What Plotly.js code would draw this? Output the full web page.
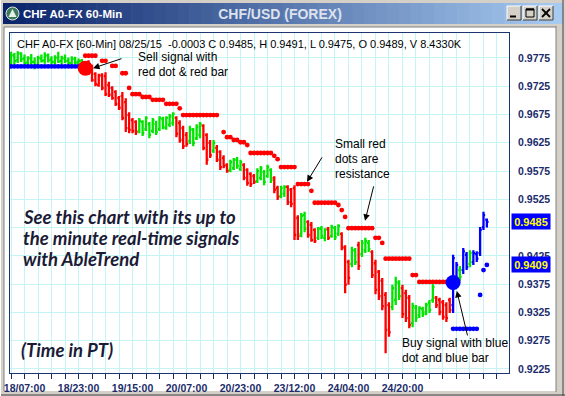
<!DOCTYPE html>
<html><head><meta charset="utf-8">
<script src="https://cdn.plot.ly/plotly-3.0.1.min.js"></script>
<style>html,body{margin:0;padding:0;background:#d4d0c8;overflow:hidden}#chart{width:565px;height:396px}</style>
</head><body><div id="chart"></div>
<script>
// ---------------- DATA ----------------
// bar colour per hourly bar (G = green, R = red, B = blue)
const barColor = "GGGGGGGGGGGGGGGGGGGGGG" + "RRRRRRRRRRRRRRRR" + "GGGGGGGGGGG" +
  "RRRR" + "GGGG" + "RRR" + "G" + "RRRR" + "GGGG" + "RRRR" + "GGGGG" + "RR" + "GG" + "RRRR" + "GG" +
  "RRR" + "GGG" + "R" + "GGG" + "RRR" + "GG" + "R" + "GGG" + "RRRRRR" + "GGG" + "RRR" + "GGGGGGG" +
  "RRRRR" + "BB" + "G" + "BB" + "G" + "BBBBB";

const openP = [
 .9772,.9779,.9771,.9783,.9774,.9767,.9774,.9768,.9763,.9774,.9771,.9779,.9772,.9768,.9775,.9770,.9774,.9770,.9766,.9773,.9767,.9770,
 .9764,.9768,.9759,.9747,.9727,.9745,.9743,.9727,.9722,.9715,.9704,.9708,.9697,.9674,.9665,.9662,.9646,.9662,.9649,.9658,
 .9646,.9658,.9649,.9667,.9651,.9657,.9660,.9669,.9660,.9651,.9639,.9628,.9648,.9633,.9639,.9655,.9639,.9625,.9611,.9616,
 .9609,.9598,.9586,.9577,.9580,.9595,.9579,.9586,.9577,.9570,.9566,.9557,.9563,.9573,.9566,.9577,.9563,.9545,.9531,.9535,
 .9547,.9542,.9545,.9492,.9464,.9497,.9485,.9480,.9471,.9457,.9473,.9457,.9473,.9460,.9474,.9464,.9464,.9439,.9414,.9411,
 .9435,.9444,.9428,.9435,.9448,.9432,.9412,.9397,.9381,.9356,.9338,.9335,.9347,.9377,.9368,.9359,.9351,.9306,.9333,.9320,
 .9331,.9326,.9342,.9347,.9351,.9347,.9343,.9338,.9347,.9338,.9386,.9400,.9400,.9427,.9411,.9414,.9428,.9430,.9476,.9489];
const highP = [
 .9786,.9784,.9787,.9785,.9781,.9778,.9782,.9776,.9779,.9781,.9785,.9783,.9778,.9780,.9786,.9779,.9781,.9776,.9778,.9777,.9774,.9773,
 .9766,.9771,.9763,.9750,.9747,.9748,.9750,.9733,.9725,.9718,.9708,.9715,.9704,.9679,.9669,.9665,.9669,.9665,.9672,.9662,
 .9669,.9664,.9672,.9671,.9672,.9676,.9679,.9672,.9665,.9655,.9644,.9655,.9651,.9658,.9662,.9658,.9642,.9630,.9630,.9621,
 .9612,.9603,.9589,.9595,.9598,.9600,.9595,.9589,.9580,.9573,.9570,.9580,.9584,.9577,.9586,.9580,.9566,.9549,.9549,.9550,
 .9550,.9545,.9550,.9497,.9501,.9503,.9488,.9485,.9474,.9476,.9478,.9474,.9476,.9480,.9478,.9481,.9467,.9444,.9418,.9441,
 .9439,.9450,.9453,.9457,.9453,.9435,.9418,.9400,.9386,.9361,.9343,.9374,.9388,.9382,.9374,.9365,.9356,.9342,.9338,.9336,
 .9335,.9342,.9347,.9375,.9354,.9351,.9347,.9343,.9351,.9427,.9414,.9407,.9439,.9432,.9435,.9435,.9433,.9476,.9503,.9491];
const lowP = [
 .9762,.9764,.9766,.9768,.9762,.9758,.9764,.9755,.9761,.9767,.9765,.9767,.9763,.9764,.9766,.9764,.9766,.9762,.9762,.9764,.9762,.9761,
 .9750,.9745,.9733,.9725,.9724,.9718,.9708,.9706,.9701,.9690,.9683,.9665,.9644,.9642,.9642,.9639,.9642,.9637,.9646,.9633,
 .9642,.9639,.9646,.9649,.9648,.9653,.9655,.9635,.9625,.9614,.9618,.9623,.9619,.9630,.9633,.9612,.9586,.9598,.9607,.9591,
 .9577,.9580,.9572,.9573,.9577,.9579,.9575,.9559,.9549,.9547,.9552,.9554,.9559,.9550,.9563,.9554,.9536,.9524,.9527,.9529,
 .9515,.9511,.9453,.9453,.9458,.9467,.9457,.9450,.9448,.9453,.9455,.9451,.9453,.9457,.9453,.9460,.9435,.9359,.9374,.9405,
 .9409,.9400,.9423,.9430,.9432,.9386,.9357,.9347,.9329,.9253,.9282,.9329,.9338,.9347,.9315,.9308,.9297,.9299,.9308,.9315,
 .9317,.9320,.9324,.9342,.9333,.9320,.9312,.9308,.9324,.9324,.9381,.9381,.9393,.9400,.9405,.9409,.9414,.9425,.9471,.9475];
const closeP = [
 .9780,.9770,.9783,.9773,.9766,.9775,.9768,.9762,.9775,.9770,.9780,.9771,.9768,.9776,.9769,.9775,.9770,.9766,.9774,.9767,.9770,.9764,
 .9754,.9750,.9736,.9729,.9743,.9722,.9711,.9710,.9704,.9694,.9687,.9669,.9651,.9648,.9646,.9644,.9664,.9642,.9669,.9639,
 .9665,.9644,.9669,.9653,.9669,.9672,.9676,.9641,.9630,.9619,.9623,.9649,.9625,.9653,.9658,.9616,.9595,.9603,.9625,.9595,
 .9582,.9584,.9575,.9591,.9595,.9584,.9591,.9563,.9554,.9552,.9556,.9575,.9580,.9556,.9582,.9559,.9542,.9529,.9545,.9547,
 .9520,.9517,.9462,.9460,.9496,.9473,.9462,.9453,.9451,.9473,.9460,.9471,.9457,.9476,.9458,.9478,.9441,.9374,.9386,.9435,
 .9414,.9407,.9448,.9451,.9437,.9391,.9365,.9354,.9336,.9294,.9290,.9368,.9379,.9354,.9322,.9315,.9303,.9336,.9315,.9333,
 .9322,.9338,.9329,.9370,.9338,.9326,.9317,.9315,.9329,.9421,.9409,.9388,.9433,.9405,.9430,.9430,.9420,.9471,.9497,.9485];

// resistance (small red dots)
const resistX = [22,23,24,25,27,28,30,31,33,34,35,36,37,38,39,40,41,42,43,44,45,46,47,48,49,50,
 51,52,53,54,55,56,57,58,59,60,61,63,64,65,66,67,68,69,70,71,72,73,74,75,76,77,78,79,
 80,81,82,83,84,85,86,87,88,89,90,91,92,93,94,95,96,97,98,99,100,101,102,103,104,105,106,107,
 108,109,110,111,112,113,114,115,116,117,118,119,120,121,122,123,124,125,126,127,128,129,130];
const resistY = [.9779,.9779,.9779,.9779,.9770,.9770,.9761,.9761,.9748,.9748,.9722,.9711,.9711,.9711,
 .9706,.9706,.9706,.9701,.9701,.9701,.9701,.9694,.9694,.9694,.9694,.9686,
 .9674,.9674,.9674,.9674,.9674,.9674,.9674,.9674,.9674,.9674,.9674,.9644,.9635,.9635,.9630,.9630,.9626,.9626,.9621,
 .9607,.9607,.9607,.9607,.9607,.9607,.9607,.9602,.9596,
 .9582,.9582,.9582,.9582,.9582,.9552,.9552,.9552,.9552,.9540,.9519,.9519,.9519,.9519,.9519,.9519,.9519,.9515,.9506,.9494,
 .9474,.9474,.9474,.9474,.9474,.9474,.9474,.9474,.9457,.9457,.9448,
 .9420,.9420,.9420,.9420,.9420,.9420,.9420,.9420,.9391,.9391,
 .9379,.9379,.9379,.9379,.9379,.9379,.9379,.9379,.9379,.9379];
// support (small blue dots)
const supportX = [0,1,2,3,4,5,6,7,8,9,10,11,12,13,14,15,16,17,18,19,20,21,131,132,133,134,135,136,137,138,139,140,141];
const supportY = [.9760,.9760,.9760,.9760,.9760,.9760,.9760,.9760,.9760,.9760,.9760,.9760,.9760,.9760,.9760,.9760,.9760,.9760,.9760,.9760,.9760,.9760,
 .9296,.9296,.9296,.9296,.9296,.9296,.9296,.9296,.9356,.9400,.9409];
// signals
const sellX = [22], sellY = [0.9757];
const buyX = [131], buyY = [0.9378];
// axis labels
const xTickVals = [4,20,36,52,68,84,100,116];
const xTickText = ['18/07:00','18/23:00','19/15:00','20/07:00','20/23:00','23/12:00','24/04:00','24/20:00'];
const yTickVals = [0.9225,0.9275,0.9325,0.9375,0.9425,0.9475,0.9525,0.9575,0.9625,0.9675,0.9725,0.9775];
const yHiddenLabel = 0.9475; // covered by the last-price box in the original
const lastPrice = 0.9485, stopPrice = 0.9409;
const headerText = 'CHF A0-FX [60-Min] 08/25/15  -0.0003 C 0.9485, H 0.9491, L 0.9475, O 0.9489, V 8.4330K';

// ---------------- LAYOUT ----------------
const W = 565, H = 396;
const px = X => X / W, py = Y => 1 - Y / H;
const FONT = 'Liberation Sans, Arial, sans-serif';
const colorMap = {G: '#00e400', R: '#ff0000', B: '#0000ff'};

const traces = [];
['G','R','B'].forEach(c => {
  const xs=[],o=[],h=[],l=[],cl=[];
  for (let i=0;i<openP.length;i++) if (barColor[i]===c){xs.push(i);o.push(openP[i]);h.push(highP[i]);l.push(lowP[i]);cl.push(closeP[i]);}
  traces.push({type:'ohlc',x:xs,open:o,high:h,low:l,close:cl,tickwidth:0.5,
    increasing:{line:{color:colorMap[c],width:2.3}},decreasing:{line:{color:colorMap[c],width:2.3}},hoverinfo:'skip',showlegend:false});
});
traces.push({type:'scatter',mode:'markers',x:resistX,y:resistY,marker:{color:'#ff0000',size:4.8},hoverinfo:'skip',showlegend:false});
traces.push({type:'scatter',mode:'markers',x:supportX,y:supportY,marker:{color:'#0000ff',size:4.8},hoverinfo:'skip',showlegend:false});
traces.push({type:'scatter',mode:'markers',x:sellX,y:sellY,marker:{color:'#ff0000',size:15},hoverinfo:'skip',showlegend:false});
traces.push({type:'scatter',mode:'markers',x:buyX,y:buyY,marker:{color:'#0000ff',size:15},hoverinfo:'skip',showlegend:false});

// window chrome
const shapes = [];
function rect(x0,y0,x1,y1,fill,line,lw,layer){shapes.push({type:'rect',xref:'paper',yref:'paper',x0:px(x0),x1:px(x1),y0:py(y1),y1:py(y0),fillcolor:fill,line:{color:line||'rgba(0,0,0,0)',width:lw||0},layer:layer||'below'});}
function seg(x0,y0,x1,y1,color,w){shapes.push({type:'line',xref:'paper',yref:'paper',x0:px(x0),x1:px(x1),y0:py(y0),y1:py(y1),line:{color:color,width:w||1},layer:'below'});}
// title bar gradient
const c0=[10,36,106], c1=[166,202,240], N=48, tx0=3, tx1=562;
for (let k=0;k<N;k++){
  const t=k/(N-1), col='rgb('+c0.map((v,j)=>Math.round(v+(c1[j]-v)*t)).join(',')+')';
  rect(tx0+(tx1-tx0)*k/N, 3, tx0+(tx1-tx0)*(k+1)/N+0.6, 24, col);
}
// content area
rect(4,27,556,391,'#ffffff');
seg(4,27,556,27,'#808080',1);
seg(4,27,4,391,'#808080',1);
seg(556,26,556,392,'#808080',1);
seg(563,0,563,396,'#404040',1);
seg(0,395,565,395,'#404040',1);
seg(0.5,0,0.5,396,'#ffffff',1);
// buttons
[[507,521],[523,537],[539,553]].forEach(b=>{
  rect(b[0],6,b[1],20,'#d4d0c8');
  seg(b[0],6,b[1],6,'#ffffff',1); seg(b[0],6,b[0],20,'#ffffff',1);
  seg(b[0],20,b[1],20,'#404040',1); seg(b[1],6,b[1],20,'#404040',1);
});
seg(510,16.5,516,16.5,'#000',2);
rect(526,9,534,17,'rgba(0,0,0,0)','#000',1);
seg(526,9.5,534,9.5,'#000',2);
seg(542,9,550,17,'#000',1.8); seg(550,9,542,17,'#000',1.8);
// icon
shapes.push({type:'circle',xref:'paper',yref:'paper',x0:px(6),x1:px(19),y0:py(20),y1:py(7),fillcolor:'#3c7c5c',line:{color:'#e0e0e0',width:1},layer:'below'});
shapes.push({type:'path',xref:'paper',yref:'paper',path:'M '+px(12.5)+' '+py(9)+' L '+px(16.5)+' '+py(17)+' L '+px(8.5)+' '+py(17)+' Z',fillcolor:'#e8f0e8',line:{width:0},layer:'below'});

const ann = [];
function txt(X,Y,s,size,color,extra){ann.push(Object.assign({xref:'paper',yref:'paper',x:px(X),y:py(Y),text:s,showarrow:false,xanchor:'left',yanchor:'middle',font:{family:FONT,size:size,color:color}},extra||{}));}
txt(21,14,'<b>CHF A0-FX 60-Min</b>',11.5,'#ffffff');
txt(15,44,headerText,11,'#000000');
txt(136,57,'Sell signal with',12,'#000');
txt(136,72,'red dot &amp; red bar',12,'#000');
txt(333,144,'Small red',12,'#000');
txt(333,159,'dots are',12,'#000');
txt(333,174,'resistance',12,'#000');
txt(400,343,'Buy signal with blue',12,'#000');
txt(400,358,'dot and blue bar',12,'#000');
const BIG = {family:'Lato, Open Sans, sans-serif',size:18.5,color:'#1b1b36',weight:700,style:'italic'};
[['See this chart with its up to',217,21],['the minute real-time signals',238,21],['with AbleTrend',259,21],['(Time in PT)',350,19]].forEach(a=>{
  ann.push({xref:'paper',yref:'paper',x:px(a[2]),y:py(a[1]),text:a[0],showarrow:false,xanchor:'left',yanchor:'middle',font:BIG});
});
// arrows (heads in data coordinates)
function arrow(x,y,ax,ay){ann.push({xref:'x',yref:'y',x:x,y:y,ax:ax,ay:ay,text:'',showarrow:true,arrowhead:2,arrowsize:1.3,arrowwidth:1,arrowcolor:'#000'});}
arrow(24.3,0.9757,30,-10);
arrow(87.7,0.9556,16,-26);
arrow(104.9,0.9487,9,-36);
arrow(132.1,0.9363,11,46);
// price boxes
[lastPrice,stopPrice].forEach(p=>{
  ann.push({xref:'paper',yref:'y',x:px(531),y:p,text:'<b>'+p.toFixed(4)+'</b>',showarrow:false,xanchor:'center',yanchor:'middle',
    bgcolor:'#0000ff',width:38,height:15,borderpad:0,font:{family:FONT,size:11,color:'#ffff00'}});
});

const layout = {
  width:W,height:H,margin:{l:0,r:0,t:0,b:0},
  paper_bgcolor:'#d4d0c8',plot_bgcolor:'#ffffff',showlegend:false,hovermode:false,dragmode:false,
  title:{text:'<b>CHF/USD (FOREX)</b>',x:px(280),xanchor:'center',y:py(14),yanchor:'middle',yref:'container',font:{family:FONT,size:14,color:'#dde2ee'}},
  xaxis:{domain:[px(10),px(509)],range:[-0.3,147.56],
    tickmode:'array',tickvals:Array.from({length:37},(_, k)=>k*4),
    ticktext:Array.from({length:37},(_, k)=>{const j=xTickVals.indexOf(k*4);return j>=0?xTickText[j]:'';}),
    ticks:'outside',ticklen:5,tickcolor:'#1a2a60',tickwidth:1,
    showgrid:true,gridcolor:'#c4f4f4',gridwidth:1,zeroline:false,
    showline:true,mirror:true,linecolor:'#1a3570',linewidth:1,
    tickfont:{family:FONT,size:10.5,color:'#1c2c6a',weight:700},rangeslider:{visible:false},fixedrange:true,automargin:false},
  yaxis:{domain:[1-373/H,1-33/H],range:[0.92179,0.98192],side:'right',
    tickmode:'array',tickvals:yTickVals,ticktext:yTickVals.map(v=>v===yHiddenLabel?'':v.toFixed(4)),
    ticks:'',ticklabelstandoff:6,showgrid:true,gridcolor:'#c4f4f4',gridwidth:1,zeroline:false,
    showline:true,mirror:true,linecolor:'#1a3570',linewidth:1,
    tickfont:{family:FONT,size:10.5,color:'#1c2c6a',weight:700},fixedrange:true,automargin:false},
  shapes:shapes,annotations:ann
};
Plotly.newPlot('chart',traces,layout,{staticPlot:true,displayModeBar:false});
</script></body></html>
